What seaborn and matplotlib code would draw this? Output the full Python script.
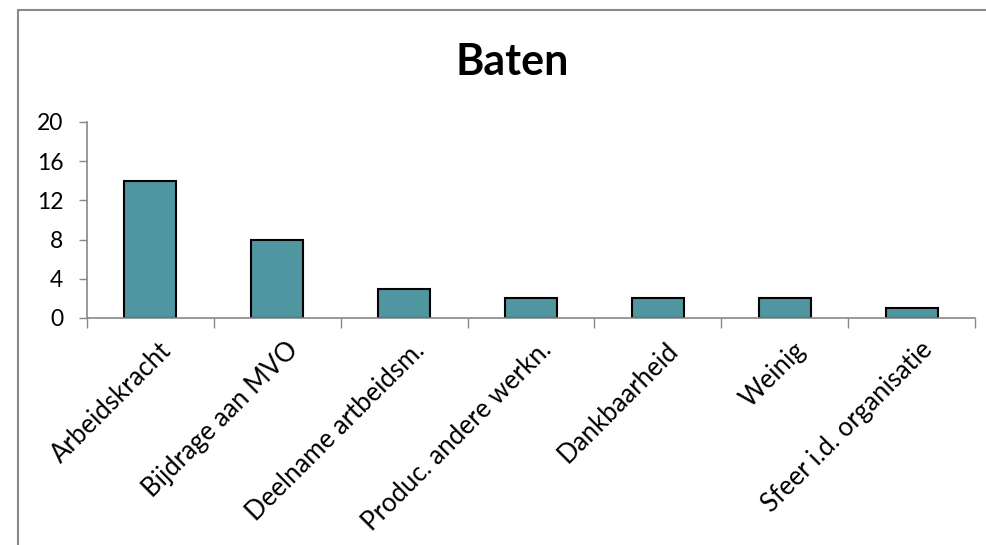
import matplotlib
matplotlib.use("Agg")
import matplotlib.pyplot as plt
import matplotlib.transforms as mtransforms
import seaborn as sns
import pandas as pd
from matplotlib.lines import Line2D

categories = ["Arbeidskracht", "Bijdrage aan MVO", "Deelname artbeidsm.",
              "Produc. andere werkn.", "Dankbaarheid", "Weinig",
              "Sfeer i.d. organisatie"]
values = [14, 8, 3, 2, 2, 2, 1]
yticks = [0, 4, 8, 12, 16, 20]
title = "Baten"

sns.set_theme(style="white")
plt.rcParams['font.family'] = ['Lato', 'DejaVu Sans']

df = pd.DataFrame({"cat": categories, "val": values})

fig = plt.figure(figsize=(9.86, 5.45), dpi=100)
ax = fig.add_axes([87/986, 1-318/545, (975-87)/986, (318-122)/545])

sns.barplot(data=df, x="cat", y="val", ax=ax, color="#4F96A1",
            saturation=1, width=0.41, edgecolor="black", linewidth=1.5)

n = len(categories)
ax.set_xlim(-0.5, n - 0.5)
ax.set_ylim(0, 20)
ax.set_yticks(yticks)
ax.set_yticklabels([str(t) for t in yticks], fontsize=16.5, color="black")
ax.set_xlabel("")
ax.set_ylabel("")

# category ticks at boundaries
ax.set_xticks([i - 0.5 for i in range(n + 1)], minor=False)
ax.set_xticklabels([])
ax.tick_params(axis="x", which="major", direction="out", length=7, width=1, color="#888888", bottom=True)
ax.tick_params(axis="y", which="major", direction="out", length=6, width=1, color="#888888", left=True, pad=11)
ax.set_xticks(range(n), minor=True)
ax.set_xticklabels(categories, minor=True, rotation=45, ha="right",
                   rotation_mode="anchor", fontsize=18.5, color="black")
ax.tick_params(axis="x", which="minor", length=0, pad=14)
offset = mtransforms.ScaledTranslation(8/100, 0, fig.dpi_scale_trans)
for lbl in ax.get_xticklabels(minor=True):
    lbl.set_transform(lbl.get_transform() + offset)

for s in ["top", "right"]:
    ax.spines[s].set_visible(False)
for s in ["left", "bottom"]:
    ax.spines[s].set_color("#888888")
    ax.spines[s].set_linewidth(1.2)

fig.text(512/986, 1-62/545, title, ha="center", va="center",
         fontsize=31, fontweight="bold", color="black")

# outer chart frame (left and top edges visible)
fig.add_artist(Line2D([17.5/986, 17.5/986], [0, 1-9.5/545], transform=fig.transFigure,
                      color="#8a8a8a", linewidth=1.5))
fig.add_artist(Line2D([17.5/986, 1], [1-9.5/545, 1-9.5/545], transform=fig.transFigure,
                      color="#8a8a8a", linewidth=1.5))

fig.savefig("out.png", dpi=100)
